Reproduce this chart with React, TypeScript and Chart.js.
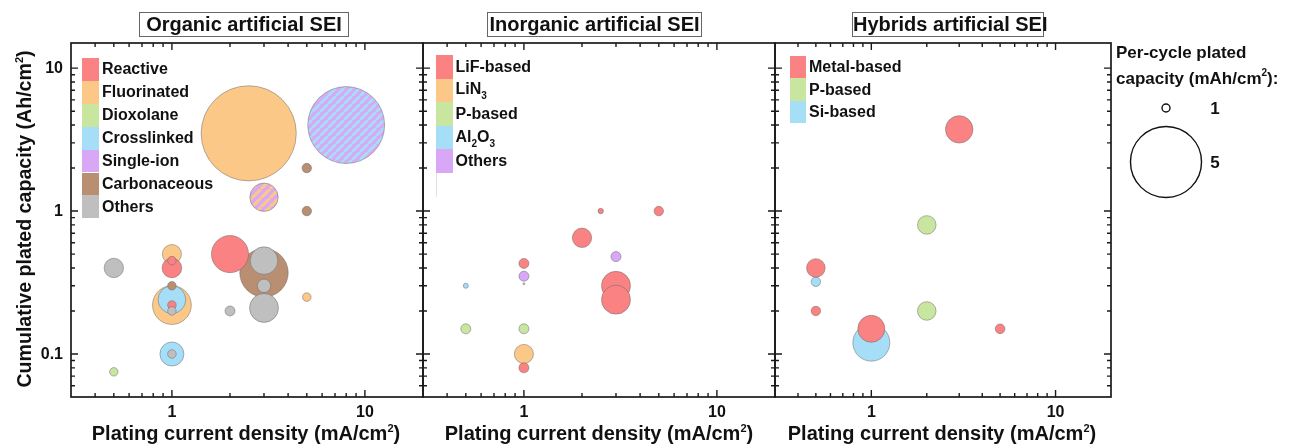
import React, { useEffect, useRef } from "react";
import { Chart, registerables } from "chart.js";

Chart.register(...registerables);

const FONT = '"Liberation Sans", Arial, Helvetica, sans-serif';
const W = 1305;
const H = 444;

// ---------- axes ----------
const xMin = 0.3;
const xMax = 20;
const yMin = 0.05;
const yMax = 15;
const xTickValues = [1, 10];
const xTickLabels = ["1", "10"];
const yTickValues = [0.1, 1, 10];
const yTickLabels = ["0.1", "1", "10"];

const xAxisTitle = "Plating current density (mA/cm^2)";
const yAxisTitle = "Cumulative plated capacity (Ah/cm^2)";
const panelTitles = ["Organic artificial SEI", "Inorganic artificial SEI", "Hybrids artificial SEI"];
const sizeLegendTitle = ["Per-cycle plated", "capacity (mAh/cm^2):"];
const sizeLegendValues = [1, 5];

// ---------- colours ----------
const RED = "#FA8282";
const ORANGE = "#FBC888";
const GREEN = "#C9E6A1";
const BLUE = "#A6DDF7";
const PURPLE = "#D8A8F7";
const BROWN = "#B98E71";
const GRAY = "#BFBFBF";

// ---------- data: [current density (mA/cm2), cumulative capacity (Ah/cm2), per-cycle capacity (mAh/cm2)] ----------
// Organic
const organicCategories = ["Reactive", "Fluorinated", "Dioxolane", "Crosslinked", "Single-ion", "Carbonaceous", "Others"];
const organicColors = [RED, ORANGE, GREEN, BLUE, PURPLE, BROWN, GRAY];
const organicReactive = [[2, 0.5, 3.1], [1, 0.4, 1.94], [1, 0.45, 1.05], [1, 0.22, 1.05]];
const organicFluorinated = [[2.5, 3.5, 6.2], [1, 0.5, 1.9], [1, 0.22, 3.2], [5, 0.25, 1.05]];
const organicDioxolane = [[0.5, 0.075, 1.04]];
const organicCrosslinked = [[1, 0.24, 2.5], [1, 0.1, 2.25]];
const organicSingleIonCrosslinked = [[8, 4.0, 5.3]];
const organicSingleIonFluorinated = [[3, 1.25, 2.54]];
const organicCarbonaceous = [[5, 2, 1.13], [5, 1, 1.13], [3, 0.37, 3.77], [1, 0.3, 1.05]];
const organicOthers = [[3, 0.45, 2.49], [3, 0.3, 1.46], [3, 0.21, 2.58], [2, 0.2, 1.18], [0.5, 0.4, 1.92], [1, 0.2, 1.05], [1, 0.1, 1.05]];

// Inorganic
const inorganicCategories = ["LiF-based", "LiN_3", "P-based", "Al_2O_3", "Others"];
const inorganicColors = [RED, ORANGE, GREEN, BLUE, PURPLE];
const inorganicLiF = [[2.5, 1, 0.75], [5, 1, 1.13], [2, 0.65, 1.92], [1, 0.43, 1.18], [3, 0.3, 2.58], [3, 0.24, 2.58], [1, 0.08, 1.18]];
const inorganicLiN3 = [[1, 0.1, 1.9]];
const inorganicP = [[0.5, 0.15, 1.18], [1, 0.15, 1.18]];
const inorganicAl2O3 = [[0.5, 0.3, 0.71], [1, 0.31, 0.36]];
const inorganicOthers = [[3, 0.48, 1.18], [1, 0.35, 1.18]];

// Hybrids
const hybridCategories = ["Metal-based", "P-based", "Si-based"];
const hybridColors = [RED, GREEN, BLUE];
const hybridMetal = [[3, 3.73, 2.48], [0.5, 0.4, 1.86], [0.5, 0.2, 1.13], [1, 0.15, 2.45], [5, 0.15, 1.15]];
const hybridP = [[2, 0.8, 1.86], [2, 0.2, 1.86]];
const hybridSi = [[0.5, 0.32, 1.13], [1, 0.12, 3.09]];

// ---------- helpers ----------
const bubbleRadius = (v: number) => 4 * Math.pow(v, 1.357);

const PLOT_TOP = 43;
const PLOT_BOTTOM = 397;
const panelEdges = [71, 423, 775, 1111];

function logMarks(min: number, max: number): [number, boolean][] {
  const out: [number, boolean][] = [];
  for (let e = Math.floor(Math.log10(min)); e <= Math.ceil(Math.log10(max)); e++) {
    for (let m = 1; m <= 9; m++) {
      const v = m * Math.pow(10, e);
      if (v > min * 1.0001 && v < max * 0.9999) out.push([v, m === 1]);
    }
  }
  return out;
}

function stripePattern(ctx: CanvasRenderingContext2D, base: string, stripe: string, s: number, lw: number) {
  const c = document.createElement("canvas");
  c.width = s;
  c.height = s;
  const g = c.getContext("2d")!;
  g.fillStyle = base;
  g.fillRect(0, 0, s, s);
  g.strokeStyle = stripe;
  g.lineWidth = lw;
  g.beginPath();
  for (const o of [-s, 0, s]) {
    g.moveTo(o, s);
    g.lineTo(o + s, 0);
  }
  g.stroke();
  return ctx.createPattern(c, "repeat") || base;
}

function rich(text: string, subSize = 10, supSize = 11) {
  const parts = text.split(/([_^]\d)/);
  return parts.map((p, i) => {
    if (p.startsWith("_")) return <span key={i} style={{ fontSize: subSize, position: "relative", top: 5 }}>{p.slice(1)}</span>;
    if (p.startsWith("^")) return <span key={i} style={{ fontSize: supSize, position: "relative", top: -8 }}>{p.slice(1)}</span>;
    return <React.Fragment key={i}>{p}</React.Fragment>;
  });
}

// frame, inward ticks on all four sides, and tick labels placed through the scales
function makeFrameTicks(showY: boolean) {
  return {
    id: "frameTicks",
    afterDatasetsDraw(chart: any) {
      const { ctx, chartArea: a, scales } = chart;
      const xs = scales.x;
      const ys = scales.y;
      ctx.save();
      ctx.strokeStyle = "#1a1a1a";
      ctx.lineWidth = 1.4;
      ctx.beginPath();
      for (const [v, major] of logMarks(xMin, xMax)) {
        const px = xs.getPixelForValue(v);
        const L = major ? 7 : 4;
        ctx.moveTo(px, a.bottom);
        ctx.lineTo(px, a.bottom - L);
        ctx.moveTo(px, a.top);
        ctx.lineTo(px, a.top + L);
      }
      for (const [v, major] of logMarks(yMin, yMax)) {
        const py = ys.getPixelForValue(v);
        const L = major ? 7 : 4;
        ctx.moveTo(a.left, py);
        ctx.lineTo(a.left + L, py);
        ctx.moveTo(a.right, py);
        ctx.lineTo(a.right - L, py);
      }
      ctx.stroke();
      ctx.lineWidth = 1.7;
      ctx.strokeRect(a.left, a.top, a.right - a.left, a.bottom - a.top);

      ctx.fillStyle = "#111";
      ctx.font = `bold 16px ${FONT}`;
      ctx.textAlign = "center";
      ctx.textBaseline = "middle";
      xTickValues.forEach((v, i) => {
        ctx.fillText(xTickLabels[i], xs.getPixelForValue(v), a.bottom + 15.5);
      });
      if (showY) {
        ctx.textAlign = "right";
        yTickValues.forEach((v, i) => {
          ctx.fillText(yTickLabels[i], a.left - 8, ys.getPixelForValue(v) + 0.5);
        });
      }
      ctx.restore();
    },
  };
}

const sizeLegendPlugin = {
  id: "sizeLegend",
  afterDraw(chart: any) {
    const ctx = chart.ctx;
    const cx = 1166;
    const cys = [108, 162];
    ctx.save();
    ctx.strokeStyle = "#111";
    ctx.lineWidth = 1.4;
    ctx.fillStyle = "#fff";
    sizeLegendValues.forEach((v, i) => {
      ctx.beginPath();
      ctx.arc(cx, cys[i], bubbleRadius(v), 0, Math.PI * 2);
      ctx.fill();
      ctx.stroke();
    });
    ctx.fillStyle = "#111";
    ctx.font = `bold 17px ${FONT}`;
    ctx.textAlign = "center";
    ctx.textBaseline = "middle";
    sizeLegendValues.forEach((v, i) => {
      ctx.fillText(String(v), 1215, cys[i] + 1);
    });
    ctx.restore();
  },
};

interface Layer { data: number[][]; color: string; stripe?: string; stripeSize?: number; stripeWidth?: number }

function ChartPanel({ index, layers, showY, extra }: { index: number; layers: Layer[]; showY: boolean; extra?: any }) {
  const ref = useRef<HTMLCanvasElement>(null);
  useEffect(() => {
    const canvas = ref.current!;
    const ctx = canvas.getContext("2d")!;
    const datasets = layers
      .slice()
      .reverse()
      .map((l) => ({
        data: l.data.map(([x, y, v]) => ({ x, y, r: bubbleRadius(v) })),
        backgroundColor: l.stripe ? stripePattern(ctx, l.color, l.stripe, l.stripeSize || 8, l.stripeWidth || 2.8) : l.color,
        borderColor: "rgba(105,105,105,0.7)",
        borderWidth: 0.7,
      }));
    const plugins: any[] = [makeFrameTicks(showY)];
    if (extra) plugins.push(extra);
    const zeroFit = (s: any) => {
      if (s.isHorizontal()) s.height = 0;
      else s.width = 0;
      s.paddingLeft = 0;
      s.paddingRight = 0;
      s.paddingTop = 0;
      s.paddingBottom = 0;
    };
    const chart = new Chart(canvas, {
      type: "bubble",
      data: { datasets: datasets as any },
      options: {
        responsive: false,
        animation: false,
        events: [],
        layout: {
          autoPadding: false,
          padding: {
            left: panelEdges[index],
            right: W - panelEdges[index + 1],
            top: PLOT_TOP,
            bottom: H - PLOT_BOTTOM,
          },
        },
        plugins: { legend: { display: false }, tooltip: { enabled: false }, title: { display: false } },
        scales: {
          x: {
            type: "logarithmic",
            position: "bottom",
            min: xMin,
            max: xMax,
            grid: { display: false, drawTicks: false },
            border: { display: false },
            ticks: { display: false },
            afterFit: zeroFit,
          },
          y: {
            type: "logarithmic",
            position: "left",
            min: yMin,
            max: yMax,
            grid: { display: false, drawTicks: false },
            border: { display: false },
            ticks: { display: false },
            afterFit: zeroFit,
          },
        },
      },
      plugins,
    } as any);
    return () => chart.destroy();
  }, []);
  return <canvas ref={ref} width={W} height={H} style={{ position: "absolute", left: 0, top: 0, width: W, height: H }} />;
}

function Legend({ labels, colors, left, top, rowH, boxW }: { labels: string[]; colors: string[]; left: number; top: number; rowH: number; boxW: number }) {
  return (
    <>
      {labels.map((lab, i) => (
        <div
          key={i}
          style={{ position: "absolute", left, top: top + i * rowH, height: rowH, display: "flex", alignItems: "center" }}
        >
          <div style={{ width: boxW, height: rowH, background: colors[i] }} />
          <div style={{ marginLeft: 3, font: `bold 16px ${FONT}`, color: "#111", whiteSpace: "nowrap", lineHeight: "18px" }}>
            {rich(lab)}
          </div>
        </div>
      ))}
    </>
  );
}

const panels = [
  {
    layers: [
      { data: organicFluorinated, color: ORANGE },
      { data: organicCrosslinked, color: BLUE },
      { data: organicSingleIonCrosslinked, color: PURPLE, stripe: BLUE, stripeSize: 8, stripeWidth: 2.8 },
      { data: organicSingleIonFluorinated, color: PURPLE, stripe: ORANGE, stripeSize: 9, stripeWidth: 3.2 },
      { data: organicCarbonaceous, color: BROWN },
      { data: organicReactive, color: RED },
      { data: organicDioxolane, color: GREEN },
      { data: organicOthers, color: GRAY },
    ],
    titleBox: [139, 349],
    xTitleCenter: 246,
    legend: { labels: organicCategories, colors: organicColors, left: 82, top: 58, rowH: 22.9, boxW: 17 },
  },
  {
    layers: [
      { data: inorganicLiN3, color: ORANGE },
      { data: inorganicLiF, color: RED },
      { data: inorganicP, color: GREEN },
      { data: inorganicAl2O3, color: BLUE },
      { data: inorganicOthers, color: PURPLE },
    ],
    titleBox: [487, 702],
    xTitleCenter: 599,
    legend: { labels: inorganicCategories, colors: inorganicColors, left: 436, top: 55, rowH: 23.6, boxW: 16.5 },
  },
  {
    layers: [
      { data: hybridSi, color: BLUE },
      { data: hybridP, color: GREEN },
      { data: hybridMetal, color: RED },
    ],
    titleBox: [852, 1044],
    xTitleCenter: 942,
    legend: { labels: hybridCategories, colors: hybridColors, left: 790, top: 56, rowH: 22.4, boxW: 16 },
  },
];

export default function App() {
  useEffect(() => {
    document.body.style.margin = "0";
  }, []);
  const textBase: React.CSSProperties = { position: "absolute", font: `bold 20px ${FONT}`, color: "#111", whiteSpace: "nowrap" };
  return (
    <div style={{ position: "absolute", left: 0, top: 0, width: W, height: H, overflow: "hidden", background: "#fff" }}>
      {panels.map((p, i) => (
        <ChartPanel key={i} index={i} layers={p.layers} showY={i === 0} extra={i === 2 ? sizeLegendPlugin : undefined} />
      ))}
      {panels.map((p, i) => (
        <React.Fragment key={"t" + i}>
          <div
            style={{
              ...textBase,
              left: p.titleBox[0],
              top: 12,
              width: p.titleBox[1] - p.titleBox[0],
              height: 25,
              boxSizing: "border-box",
              border: "1px solid #666",
              textAlign: "center",
              lineHeight: "23px",
            }}
          >
            {panelTitles[i]}
          </div>
          <div style={{ ...textBase, left: p.xTitleCenter - 200, width: 400, top: 421, lineHeight: "24px", textAlign: "center" }}>
            {rich(xAxisTitle, 10, 11)}
          </div>
          <Legend {...p.legend} />
        </React.Fragment>
      ))}
      <div style={{ position: "absolute", left: 436, top: 173, width: 1, height: 24, background: "#e2e2e2" }} />
      <div
        style={{
          ...textBase,
          fontSize: 19.6,
          left: 24 - 200,
          top: 219 - 12,
          width: 400,
          height: 24,
          lineHeight: "24px",
          textAlign: "center",
          transform: "rotate(-90deg)",
        }}
      >
        {rich(yAxisTitle, 10, 11)}
      </div>
      <div style={{ ...textBase, fontSize: 17, left: 1116, top: 42, lineHeight: "22px" }}>{rich(sizeLegendTitle[0])}</div>
      <div style={{ ...textBase, fontSize: 17, left: 1116, top: 68, lineHeight: "22px" }}>{rich(sizeLegendTitle[1], 10, 10)}</div>
    </div>
  );
}
